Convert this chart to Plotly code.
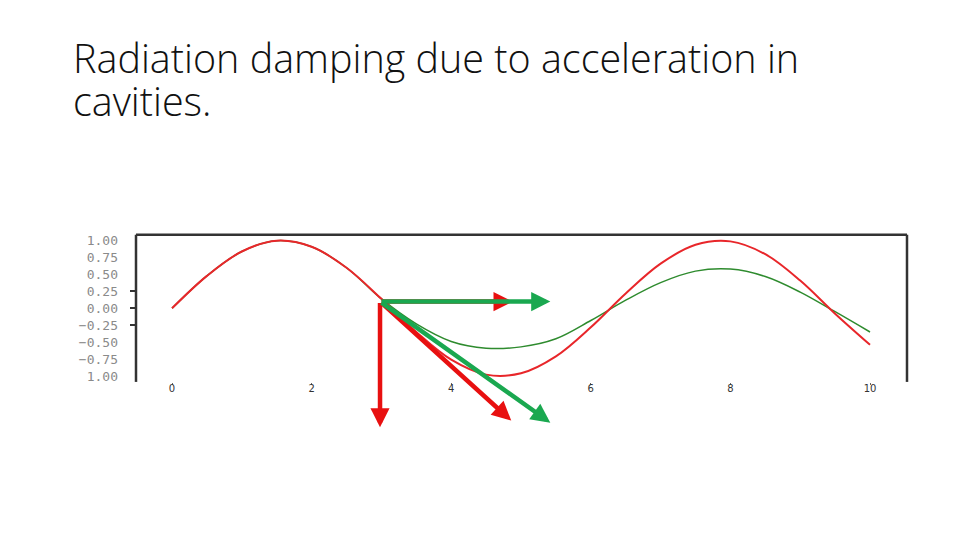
import plotly.graph_objects as go

x_vals = [0, 0.5, 1.0, 1.5, 2.0, 2.5, 3.0, 3.5, 4.0, 4.5, 5.0,
          5.5, 6.0, 6.5, 7.0, 7.5, 8.0, 8.5, 9.0, 9.5, 10.0]
red_vals = [0.00, 0.48, 0.84, 1.00, 0.91, 0.60, 0.14, -0.35, -0.76, -0.98, -0.96,
            -0.71, -0.28, 0.22, 0.66, 0.94, 0.99, 0.80, 0.41, -0.08, -0.54]
green_vals = [0.00, 0.48, 0.84, 1.00, 0.91, 0.60, 0.14, -0.23, -0.49, -0.59, -0.57,
              -0.45, -0.18, 0.12, 0.38, 0.55, 0.58, 0.47, 0.24, -0.05, -0.35]

y_ticks = [1.0, 0.75, 0.5, 0.25, 0.0, -0.25, -0.5, -0.75, -1.0]
y_tick_text = ["1.00", "0.75", "0.50", "0.25", "0.00", "\u22120.25", "\u22120.50", "\u22120.75", "1.00"]
y_small_ticks = [0.25, 0.0, -0.25]
x_ticks = [0, 2, 4, 6, 8, 10]

# force arrows: head (x, y) and colour, all from one tail point
arrow_tail = (2.98, 0.10)
arrows = [
    ((2.98, -1.76), "#e81010"),
    ((4.86, -1.66), "#e81010"),
    ((4.88, 0.10), "#e81010"),
    ((5.42, 0.10), "#1aa850"),
    ((5.42, -1.69), "#1aa850"),
]

title_lines = ["Radiation damping due to acceleration in", "cavities."]

# the page body has an 8px margin, so shift everything up/left by that
OFF = 8


def px_x(p):
    return (p - OFF) / 960


def px_y(p):
    return 1 - (p - OFF) / 540


fig = go.Figure()
fig.add_trace(go.Scatter(x=x_vals, y=green_vals, mode="lines", line_shape="spline",
                         line=dict(color="#2e8b2e", width=1.5), hoverinfo="skip"))
fig.add_trace(go.Scatter(x=x_vals, y=red_vals, mode="lines", line_shape="spline",
                         line=dict(color="#e8262a", width=2.0), hoverinfo="skip"))
# carrier for the few short y ticks
fig.add_trace(go.Scatter(x=[None], y=[None], yaxis="y2", hoverinfo="skip"))

annotations = []
for (hx, hy), col in arrows:
    annotations.append(dict(
        x=hx, y=hy, ax=arrow_tail[0], ay=arrow_tail[1],
        xref="x", yref="y", axref="x", ayref="y",
        text="", showarrow=True, arrowhead=2, arrowsize=0.85,
        arrowwidth=4.5, arrowcolor=col,
    ))

for i, line in enumerate(title_lines):
    annotations.append(dict(
        x=px_x(71), y=px_y(57 + 44 * i), xref="paper", yref="paper",
        xanchor="left", yanchor="middle", showarrow=False, text=line,
        font=dict(family="Open Sans", size=39.5, weight=300, color="#111111"),
    ))

# frame: left, top, right
spine = dict(color="#333333", width=2.5)
shapes = [
    dict(type="line", xref="paper", yref="paper", x0=px_x(136), x1=px_x(136),
         y0=px_y(383), y1=px_y(235), line=spine),
    dict(type="line", xref="paper", yref="paper", x0=px_x(136), x1=px_x(907),
         y0=px_y(235), y1=px_y(235), line=spine),
    dict(type="line", xref="paper", yref="paper", x0=px_x(907), x1=px_x(907),
         y0=px_y(383), y1=px_y(235), line=spine),
]

fig.update_layout(
    width=960, height=540,
    margin=dict(l=0, r=0, t=0, b=0),
    paper_bgcolor="white", plot_bgcolor="white",
    showlegend=False,
    annotations=annotations,
    shapes=shapes,
    xaxis=dict(domain=[px_x(136), px_x(907)], range=[-0.516, 10.53],
               tickvals=x_ticks, ticks="outside", ticklen=2, tickcolor="#666666",
               ticklabelstandoff=-5,
               showgrid=False, zeroline=False, showline=False,
               tickfont=dict(family="DejaVu Sans", size=10, color="#333333")),
    yaxis=dict(domain=[px_y(383), px_y(235)], range=[-1.088, 1.088],
               tickvals=y_ticks, ticktext=y_tick_text, ticks="",
               ticklabelstandoff=17,
               showgrid=False, zeroline=False, showline=False,
               tickfont=dict(family="DejaVu Sans Mono", size=13, color="#8a8a8a")),
    yaxis2=dict(overlaying="y", anchor="x", side="left", range=[-1.088, 1.088],
                tickvals=y_small_ticks, ticks="outside", ticklen=5,
                tickwidth=1.5, tickcolor="#333333", showticklabels=False,
                showgrid=False, zeroline=False, showline=False),
)

fig.write_html("out.html")
